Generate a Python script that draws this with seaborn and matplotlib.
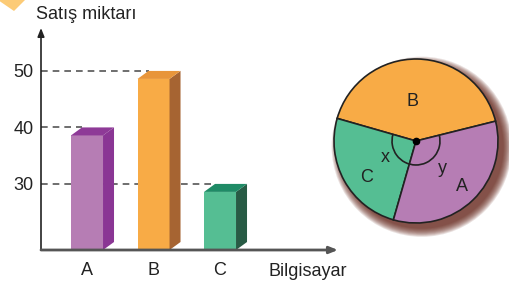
import numpy as np
import matplotlib
matplotlib.use('Agg')
import matplotlib.pyplot as plt
import seaborn as sns
from matplotlib.patches import Polygon, Arc, Circle

# Data
categories = ['A', 'B', 'C']
sales = [40, 50, 30]
pie_order = ['B', 'C', 'A']
pie_values = [50, 30, 40]
y_ticks = [30, 40, 50]

# Colours (front face, side face, top face)
front_colors = ['#B67DB4', '#F8AB46', '#55BE93']
side_colors = ['#8A3694', '#A66432', '#285B45']
top_colors = ['#8E3A97', '#E8953A', '#1F8B66']
pie_colors = {'A': '#B67DB4', 'B': '#F8AB46', 'C': '#55BE93'}

sns.set_style('white')
plt.rcParams['font.family'] = ['Liberation Sans', 'DejaVu Sans']
FS = 13

W, H = 510, 286
fig = plt.figure(figsize=(W / 100, H / 100), dpi=100)

# ---- bar chart ----
ax = fig.add_axes([41 / W, 36 / H, 297 / W, 222 / H])
xmin, xmax = -0.692, 3.774
ymin, ymax = 18.3, 57.6
ax.set_xlim(xmin, xmax)
ax.set_ylim(ymin, ymax)

# depth offset of the 3D look, in data units
px_x = 297 / (xmax - xmin)
px_y = 222 / (ymax - ymin)
dx = 11 / px_x
dy = 8 / px_y
bar_w = 32 / px_x

front = [v - dy for v in sales]
sns.barplot(x=categories, y=front, hue=categories, palette=front_colors,
            width=bar_w, legend=False, ax=ax, zorder=3, linewidth=0,
            saturation=1)
ax.set_xlim(xmin, xmax)
ax.set_ylim(ymin, ymax)

for i, patch in enumerate(ax.patches):
    x0 = patch.get_x()
    x1 = x0 + patch.get_width()
    h = patch.get_height()
    side = Polygon([(x1, ymin), (x1, h), (x1 + dx, h + dy), (x1 + dx, ymin + dy)],
                   closed=True, facecolor=side_colors[i], edgecolor='none', zorder=3)
    top = Polygon([(x0, h), (x1, h), (x1 + dx, h + dy), (x0 + dx, h + dy)],
                  closed=True, facecolor=top_colors[i], edgecolor='none', zorder=3)
    ax.add_patch(side)
    ax.add_patch(top)
    # dashed guide line to the value
    ax.plot([xmin, x0 + dx], [sales[i], sales[i]], color='#555555', lw=1.2,
            dashes=(4, 3), zorder=1, clip_on=False)

for s in ax.spines.values():
    s.set_visible(False)

ax.set_yticks(y_ticks)
ax.set_yticklabels([str(t) for t in y_ticks], fontsize=FS, color='#222222')
ax.tick_params(axis='y', length=0, pad=5.5)
ax.tick_params(axis='x', length=0, pad=8.5, labelsize=FS, labelcolor='#222222')
ax.set_xlabel('')
ax.set_ylabel('')

# axis arrows
ax.annotate('', xy=(0, 1), xytext=(0, 0), xycoords='axes fraction',
            arrowprops=dict(arrowstyle='-|>,head_length=0.5,head_width=0.2',
                            color='#222222', lw=1.2, shrinkA=0, shrinkB=0))
ax.annotate('', xy=(1, 0), xytext=(0, 0), xycoords='axes fraction',
            arrowprops=dict(arrowstyle='-|>,head_length=0.5,head_width=0.2',
                            color='#555555', lw=2, shrinkA=0, shrinkB=0))

fig.text(36 / W, 1 - 19 / H, 'Satış miktarı', fontsize=FS, color='#222222',
         va='baseline', ha='left')
fig.text(268 / W, 1 - 272 / H, 'Bilgisayar', fontsize=FS, color='#222222',
         va='center', ha='left')

# corner decoration
fig.patches.append(Polygon([(-2 / W, 1), (25 / W, 1), (14 / W, 1 - 11 / H)],
                           closed=True, transform=fig.transFigure,
                           facecolor='#FCCB77', edgecolor='none'))

# ---- pie chart ----
r = 82
cx, cy = 416, 141
pax = fig.add_axes([(cx - r) / W, (H - cy - r) / H, 2 * r / W, 2 * r / H])
pax.set_xlim(-1, 1)
pax.set_ylim(-1, 1)
pax.axis('off')

# soft shadow
for k in range(10):
    pax.add_patch(Circle((0.07, -0.07), 1.0 + 0.011 * k, facecolor='#5E1C10',
                         edgecolor='none', alpha=0.13, zorder=0, clip_on=False))
pax.add_patch(Circle((0, 0), 1.0, facecolor='white', edgecolor='none', zorder=1))

start = 14
pax.pie(pie_values, colors=[pie_colors[c] for c in pie_order], startangle=start,
        counterclock=True, radius=1,
        wedgeprops=dict(edgecolor='#222222', linewidth=1.2, zorder=2))
pax.set_xlim(-1, 1)
pax.set_ylim(-1, 1)

theta1 = start + pie_values[0] / sum(pie_values) * 360
pax.add_patch(Arc((0, 0), 0.585, 0.585, theta1=theta1, theta2=start + 360,
                  color='#222222', lw=1.2, zorder=4))
pax.plot(0, 0, 'o', color='black', ms=4.5, zorder=5)

for label, (tx, ty) in zip(['B', 'C', 'A', 'x', 'y'],
                           [(-0.04, 0.48), (-0.6, -0.44), (0.56, -0.56),
                            (-0.38, -0.2), (0.32, -0.33)]):
    pax.text(tx, ty, label, fontsize=FS, color='#222222', ha='center',
             va='center', zorder=6)

fig.savefig('out.png', dpi=100)
